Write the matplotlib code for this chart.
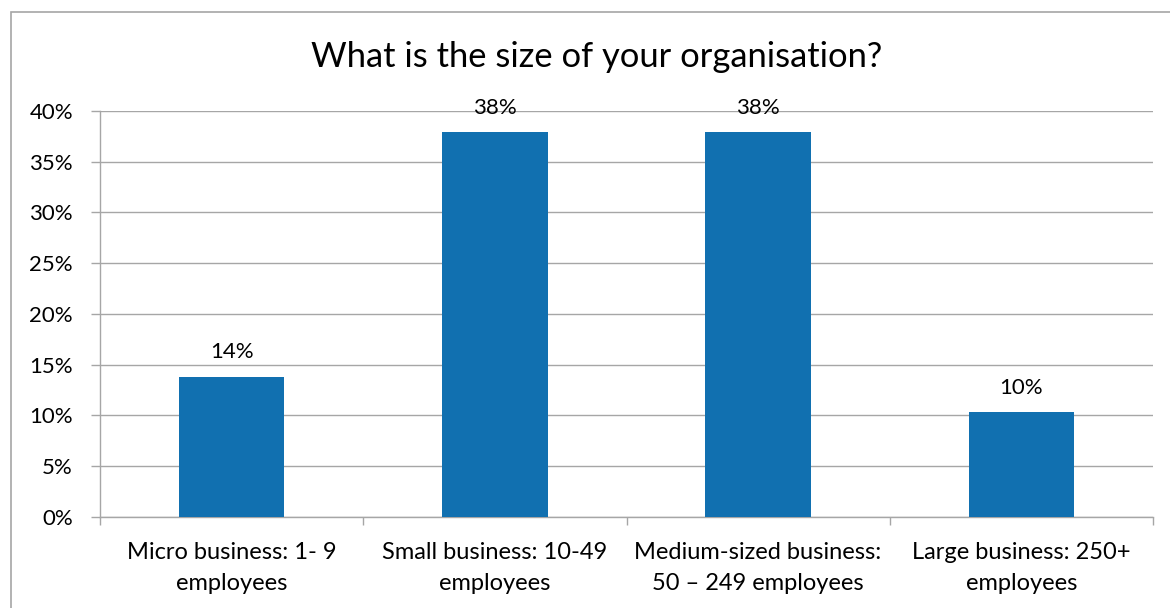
import matplotlib
matplotlib.use('Agg')
import matplotlib.pyplot as plt
from matplotlib.patches import Rectangle
from matplotlib.ticker import PercentFormatter, MultipleLocator, FixedLocator

# data
categories = [
    'Micro business: 1- 9\nemployees',
    'Small business: 10-49\nemployees',
    'Medium-sized business:\n50 \u2013 249 employees',
    'Large business: 250+\nemployees',
]
shares = [0.138, 0.379, 0.379, 0.103]
title = 'What is the size of your organisation?'

BAR_COLOR = '#1170B0'
GRID_COLOR = '#A6A6A6'
FONT = ['Lato', 'DejaVu Sans']

plt.rcParams['font.family'] = FONT

W, H = 1170, 608
fig = plt.figure(figsize=(W / 100, H / 100), dpi=100)

# outer chart border (runs off the right and bottom edges)
fig.patches.append(Rectangle((11 / W, -0.2), 1.5, 1.2 - 12 / H,
                             transform=fig.transFigure, fill=False,
                             edgecolor=GRID_COLOR, linewidth=1.2))

ax = fig.add_axes([100 / W, 1 - 516.7 / H, 1053 / W, (516.7 - 111) / H])

x = list(range(len(categories)))
bars = ax.bar(x, shares, width=0.4, color=BAR_COLOR, zorder=3)

for xi, v in zip(x, shares):
    ax.annotate(f'{v * 100:.0f}%', (xi, v), xytext=(0, 13.2),
                textcoords='offset points', ha='center', va='baseline',
                fontsize=16, color='black')

ax.set_xlim(-0.5, len(categories) - 0.5)
ax.set_ylim(0, 0.40)
ax.yaxis.set_major_locator(MultipleLocator(0.05))
ax.yaxis.set_major_formatter(PercentFormatter(xmax=1, decimals=0))
ax.grid(axis='y', color=GRID_COLOR, linewidth=1, zorder=0)
ax.set_axisbelow(True)

ax.set_xticks(x)
ax.set_xticklabels(categories, fontsize=17, linespacing=1.6)
ax.xaxis.set_minor_locator(FixedLocator([i - 0.5 for i in range(len(categories) + 1)]))
ax.tick_params(axis='x', which='major', length=0, pad=18)
ax.tick_params(axis='x', which='minor', length=6, color=GRID_COLOR, width=1)
ax.tick_params(axis='y', length=6.5, color=GRID_COLOR, width=1, pad=13,
               labelsize=16)

for side in ('top', 'right'):
    ax.spines[side].set_visible(False)
for side in ('left', 'bottom'):
    ax.spines[side].set_color(GRID_COLOR)
    ax.spines[side].set_linewidth(1)

fig.text(597 / W, 1 - 67 / H, title, ha='center', va='baseline',
         fontsize=24.8, color='black')

fig.savefig('out.png', dpi=100)
